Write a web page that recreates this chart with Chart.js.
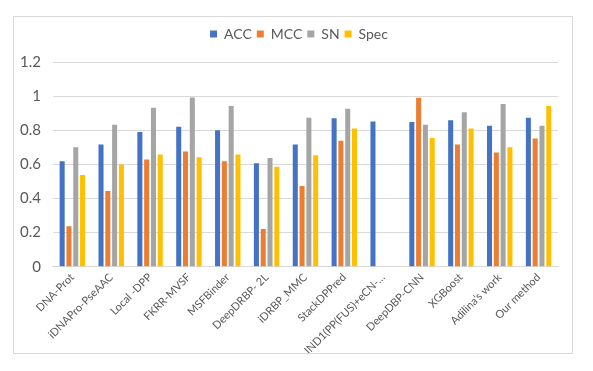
<!DOCTYPE html>
<html>
<head>
<meta charset="utf-8">
<script src="https://cdn.jsdelivr.net/npm/chart.js@4"></script>
<style>
  body { margin: 0; background: #fff; }
  #wrap { position: relative; width: 593px; height: 371px; }
  #frame { position: absolute; left: 13px; top: 16px; width: 558px; height: 336px; border: 1px solid #d9d9d9; pointer-events: none; }
</style>
</head>
<body>
<div id="wrap">
  <canvas id="chart" width="593" height="371"></canvas>
  <div id="frame"></div>
</div>
<script>
var methods = ['DNA-Prot', 'iDNAPro-PseAAC', 'Local -DPP', 'FKRR-MVSF', 'MSFBinder', 'DeepDRBP- 2L', 'iDRBP_MMC',
    'StackDPPred', 'IND1(PP(FUS)+eCN-\u2026', 'DeepDBP-CNN', 'XGBoost', 'Adilina\u2019s work', 'Our method'];
var acc  = [0.618, 0.716, 0.790, 0.820, 0.800, 0.606, 0.716, 0.870, 0.852, 0.848, 0.858, 0.826, 0.874];
var mcc  = [0.238, 0.444, 0.628, 0.676, 0.618, 0.222, 0.474, 0.738, null, 0.990, 0.716, 0.670, 0.752];
var sn   = [0.700, 0.832, 0.932, 0.992, 0.942, 0.638, 0.874, 0.926, null, 0.832, 0.906, 0.954, 0.826];
var spec = [0.538, 0.600, 0.658, 0.642, 0.658, 0.586, 0.654, 0.810, null, 0.754, 0.810, 0.700, 0.942];
var yTicks = [0, 0.2, 0.4, 0.6, 0.8, 1, 1.2];

var textColor = '#595959';
var font = 'Lato, "Noto Sans", sans-serif';

function series(label, data, color) {
    return {
        label: label,
        data: data,
        backgroundColor: color,
        borderWidth: 0,
        barPercentage: 0.74,
        categoryPercentage: 0.7
    };
}

// extra space under the legend, and nudge it right like the original
var legendTweak = {
    id: 'legendTweak',
    beforeInit: function (chart) {
        var fit = chart.legend.fit;
        chart.legend.fit = function () {
            fit.bind(chart.legend)();
            this.height += 11;
        };
    },
    afterLayout: function (chart) {
        chart.legend.left += 16;
        chart.legend.right += 16;
    }
};

const ctx = document.getElementById('chart').getContext('2d');
const chart = new Chart(ctx, {
    type: 'bar',
    data: {
        labels: methods,
        datasets: [
            series('ACC', acc, '#4472C4'),
            series('MCC', mcc, '#ED7D31'),
            series('SN', sn, '#A5A5A5'),
            series('Spec', spec, '#FFC000')
        ]
    },
    plugins: [legendTweak],
    options: {
        responsive: false,
        animation: false,
        layout: { padding: { left: 8, right: 35, top: 22, bottom: 10 } },
        plugins: {
            tooltip: { enabled: false },
            legend: {
                position: 'top',
                labels: {
                    boxWidth: 7,
                    boxHeight: 7,
                    padding: 5,
                    color: textColor,
                    font: { family: font, size: 14 }
                }
            }
        },
        scales: {
            x: {
                grid: { display: false, drawTicks: false },
                border: { color: '#d9d9d9' },
                ticks: {
                    color: textColor,
                    font: { family: font, size: 11 },
                    minRotation: 45,
                    maxRotation: 45,
                    autoSkip: false,
                    padding: 4
                }
            },
            y: {
                min: 0,
                max: 1.2,
                afterBuildTicks: function (axis) {
                    axis.ticks = yTicks.map(v => ({ value: v }));
                },
                grid: { color: '#d9d9d9', drawTicks: false },
                border: { display: false },
                ticks: {
                    color: textColor,
                    font: { family: font, size: 15 },
                    padding: 12,
                    callback: v => String(+v.toFixed(1))
                }
            }
        }
    }
});
</script>
</body>
</html>
